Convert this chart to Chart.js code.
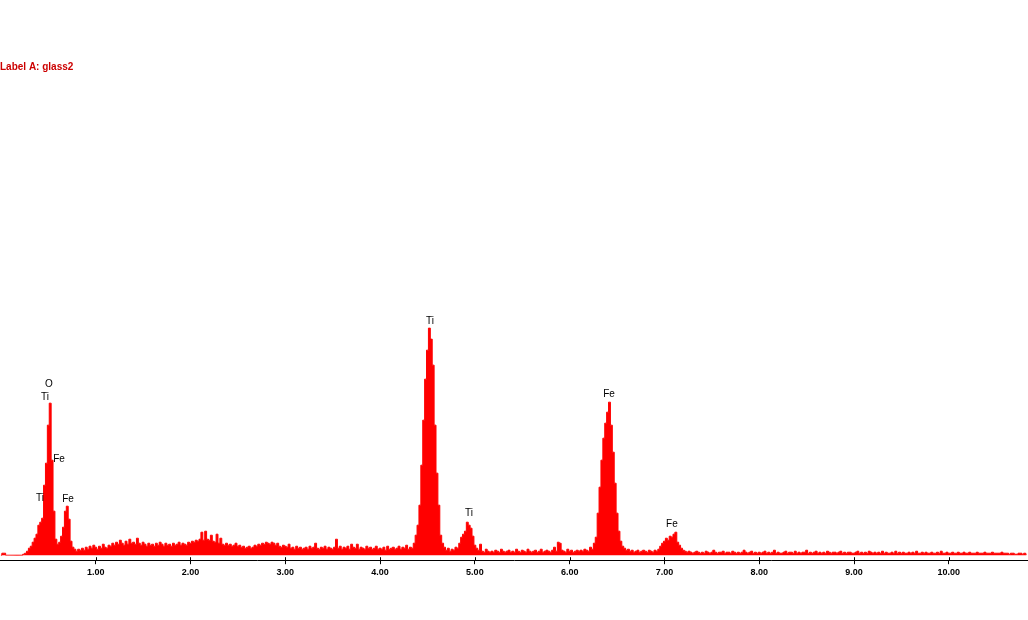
<!DOCTYPE html>
<html>
<head>
<meta charset="utf-8">
<title>Label A: glass2</title>
<script src="https://cdn.jsdelivr.net/npm/chart.js@4.4.0/dist/chart.umd.min.js"></script>
<style>
  html, body { margin: 0; padding: 0; background: #fff; }
  canvas { display: block; }
</style>
</head>
<body>
<canvas id="spectrum" width="1028" height="620"></canvas>
<script>
// detector calibration: 20 eV per channel
const channelWidth = 0.02;

// counts per channel, one array per keV (10 channels per line = 0.2 keV)
const counts0 = [
  0, 2, 2, 0, 0, 0, 0, 0, 0, 0,
  0, 0, 1, 2, 4, 7, 9, 13, 17, 21,
  30, 33, 37, 70, 92, 130, 152, 95, 44, 16,
  11, 13, 19, 28, 44, 49, 36, 14, 8, 6,
  4, 6, 5, 7, 5, 8, 6, 9, 7, 10
];
const counts1 = [
  8, 6, 9, 7, 11, 8, 7, 10, 9, 12,
  10, 13, 11, 15, 12, 10, 14, 11, 16, 12,
  13, 11, 17, 12, 10, 13, 11, 9, 12, 10,
  11, 9, 12, 10, 13, 11, 9, 12, 10, 11,
  9, 12, 10, 11, 13, 10, 12, 11, 10, 13
];
const counts2 = [
  12, 14, 13, 15, 14, 16, 23, 15, 24, 16,
  15, 20, 14, 13, 21, 12, 17, 11, 10, 12,
  10, 11, 9, 10, 12, 9, 10, 8, 9, 7,
  8, 9, 7, 8, 10, 9, 11, 10, 12, 11,
  13, 12, 11, 13, 12, 10, 12, 9, 8, 10
];
const counts3 = [
  9, 8, 11, 7, 8, 6, 9, 7, 8, 6,
  7, 8, 6, 9, 7, 8, 12, 7, 6, 8,
  7, 9, 6, 8, 7, 6, 8, 16, 7, 9,
  6, 8, 7, 9, 6, 11, 8, 7, 11, 6,
  8, 7, 6, 9, 7, 8, 6, 7, 9, 6
];
const counts4 = [
  7, 6, 8, 5, 9, 6, 7, 8, 6, 7,
  9, 6, 8, 7, 10, 6, 8, 7, 12, 20,
  30, 50, 90, 135, 176, 205, 227, 216, 190, 130,
  82, 50, 20, 12, 8, 5, 7, 4, 6, 5,
  8, 7, 12, 18, 21, 24, 33, 30, 27, 19
];
const counts5 = [
  10, 7, 5, 11, 4, 3, 6, 4, 3, 4,
  3, 5, 4, 3, 6, 4, 3, 4, 5, 3,
  4, 3, 6, 4, 3, 5, 4, 3, 6, 4,
  3, 4, 5, 3, 4, 6, 3, 4, 5, 4,
  3, 5, 8, 4, 13, 12, 5, 4, 3, 6
];
const counts6 = [
  4, 5, 3, 4, 5, 4, 5, 4, 6, 5,
  4, 8, 6, 12, 18, 42, 68, 95, 117, 132,
  143, 153, 130, 103, 72, 42, 24, 14, 9, 7,
  5, 6, 4, 5, 3, 4, 5, 3, 4, 5,
  4, 3, 5, 4, 3, 5, 4, 6, 9, 12
];
const counts7 = [
  14, 17, 15, 19, 18, 21, 23, 13, 10, 7,
  5, 4, 3, 4, 3, 2, 3, 4, 3, 2,
  3, 2, 4, 3, 2, 3, 5, 3, 2, 3,
  3, 4, 2, 3, 3, 2, 4, 3, 2, 3,
  2, 3, 5, 3, 2, 3, 4, 2, 3, 2
];
const counts8 = [
  3, 2, 3, 4, 2, 3, 2, 3, 5, 2,
  3, 2, 2, 3, 4, 2, 3, 3, 2, 4,
  2, 3, 2, 3, 3, 5, 2, 3, 2, 3,
  4, 2, 3, 2, 3, 2, 4, 3, 2, 3,
  3, 2, 3, 4, 2, 3, 2, 3, 3, 2
];
const counts9 = [
  2, 3, 4, 2, 3, 2, 3, 2, 4, 3,
  2, 3, 2, 3, 2, 4, 2, 3, 2, 2,
  3, 2, 4, 2, 3, 2, 3, 2, 2, 3,
  2, 3, 2, 4, 2, 2, 3, 2, 3, 2,
  2, 3, 2, 2, 3, 2, 4, 2, 2, 3
];
const counts10 = [
  2, 2, 3, 2, 2, 3, 2, 2, 3, 2,
  2, 3, 2, 2, 2, 3, 2, 2, 2, 3,
  2, 2, 2, 3, 2, 2, 2, 2, 3, 2,
  2, 2, 1, 2, 2, 1, 1, 2, 2, 1,
  2, 1
];
const segments = [counts0, counts1, counts2, counts3, counts4, counts5,
                  counts6, counts7, counts8, counts9, counts10];

// axis ticks
const tickValues = [1, 2, 3, 4, 5, 6, 7, 8, 9, 10];
const tickLabels = ['1.00', '2.00', '3.00', '4.00', '5.00', '6.00', '7.00', '8.00', '9.00', '10.00'];

// element markers (energy keV, counts at label)
const peakNames = ['O', 'Ti', 'Fe', 'Ti', 'Fe', 'Ti', 'Ti', 'Fe', 'Fe'];
const peakEnergy = [0.507, 0.465, 0.613, 0.412, 0.708, 4.526, 4.938, 6.415, 7.079];
const peakHeight = [171, 158, 96, 57, 56, 234, 42, 161, 31];

const spectrumLabel = 'Label A: glass2';

const points = [];
segments.forEach((seg, k) => {
  seg.forEach((c, i) => points.push({ x: k + i * channelWidth, y: c }));
});

const labelsPlugin = {
  id: 'peakLabels',
  afterDatasetsDraw(chart) {
    const { ctx, scales, chartArea } = chart;
    ctx.save();
    // tick marks poke a little above the axis line
    ctx.strokeStyle = '#000';
    ctx.lineWidth = 1;
    tickValues.forEach(v => {
      const px = Math.round(scales.x.getPixelForValue(v)) + 0.5;
      ctx.beginPath();
      ctx.moveTo(px, chartArea.bottom - 3);
      ctx.lineTo(px, chartArea.bottom);
      ctx.stroke();
    });
    ctx.fillStyle = '#000';
    ctx.font = '10px "Liberation Sans", Arial, sans-serif';
    ctx.textAlign = 'center';
    ctx.textBaseline = 'middle';
    peakNames.forEach((name, i) => {
      ctx.fillText(name, scales.x.getPixelForValue(peakEnergy[i]), scales.y.getPixelForValue(peakHeight[i]));
    });
    // spectrum label top left
    ctx.fillStyle = '#cc0000';
    ctx.font = 'bold 10px "Liberation Sans", Arial, sans-serif';
    ctx.textAlign = 'left';
    ctx.fillText(spectrumLabel, 0, 67);
    ctx.restore();
  }
};

new Chart(document.getElementById('spectrum'), {
  type: 'line',
  data: {
    datasets: [{
      data: points,
      stepped: 'middle',
      fill: 'origin',
      backgroundColor: 'rgb(255,0,0)',
      borderColor: 'rgb(255,0,0)',
      borderWidth: 1,
      pointRadius: 0
    }]
  },
  options: {
    responsive: false,
    animation: false,
    layout: { padding: { left: 0, right: 0, top: 0, bottom: 39 } },
    plugins: {
      legend: { display: false },
      tooltip: { enabled: false }
    },
    scales: {
      x: {
        type: 'linear',
        min: -0.0095,
        max: 10.835,
        afterBuildTicks(scale) {
          scale.ticks = tickValues.map(v => ({ value: v }));
        },
        border: { display: true, color: '#000', width: 1 },
        grid: { display: true, drawOnChartArea: false, drawTicks: true, tickLength: 4, color: '#000' },
        ticks: {
          autoSkip: false,
          maxRotation: 0,
          padding: 3,
          color: '#000',
          font: { family: '"Liberation Sans", Arial, sans-serif', size: 9, weight: 'bold' },
          callback: (v, i) => tickLabels[i]
        }
      },
      y: {
        display: false,
        min: -5,
        max: 555
      }
    }
  },
  plugins: [labelsPlugin]
});
</script>
</body>
</html>
